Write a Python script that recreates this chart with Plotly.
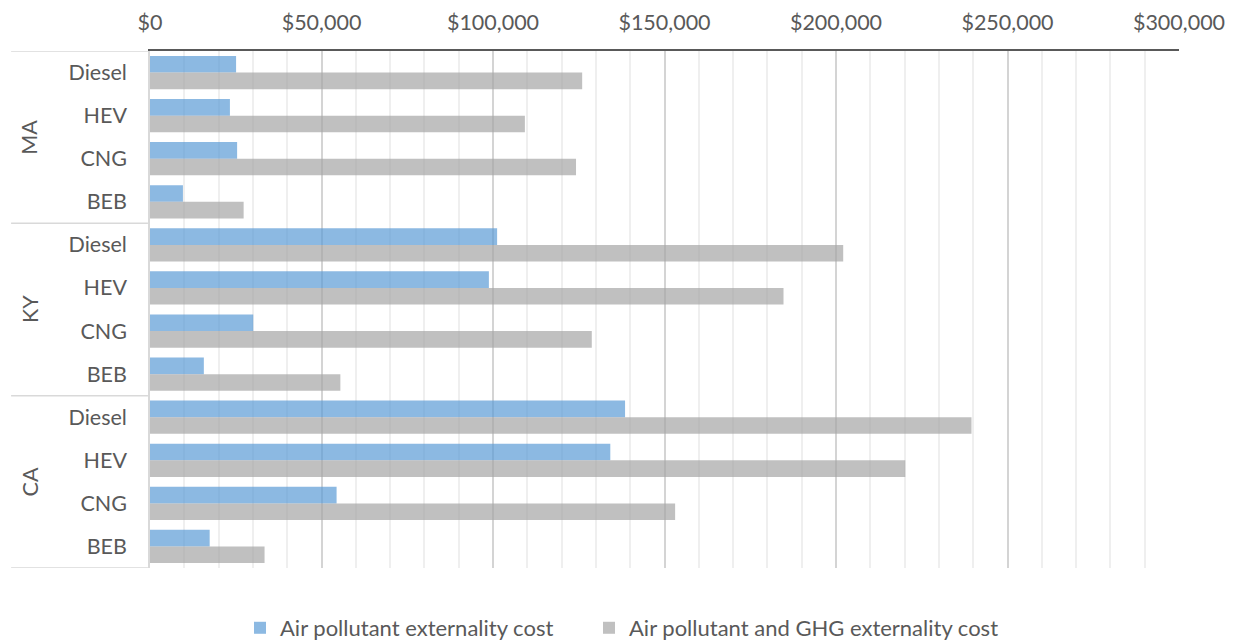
import plotly.graph_objects as go

# Externality cost per bus, by state and powertrain
states = ["MA", "KY", "CA"]
powertrains = ["Diesel", "HEV", "CNG", "BEB"]

air_pollutant = [25100, 23300, 25400, 9600,      # MA
                 101200, 98800, 30100, 15700,    # KY
                 138500, 134200, 54400, 17400]   # CA
air_pollutant_ghg = [126000, 109300, 124200, 27300,
                     202100, 184700, 128800, 55500,
                     239500, 220200, 153100, 33400]

x_ticks = [0, 50000, 100000, 150000, 200000, 250000, 300000]
x_tick_labels = ["$0", "$50,000", "$100,000", "$150,000", "$200,000", "$250,000", "$300,000"]

FONT = "Lato"
TXT = "#595959"
LINE = "#d9d9d9"
FS = 21.5

n_pt = len(powertrains)
rows = list(range(len(states) * n_pt))
row_labels = [pt for _ in states for pt in powertrains]

fig = go.Figure()
fig.add_trace(go.Bar(
    y=rows, x=air_pollutant, orientation="h",
    name="Air pollutant externality cost", legend="legend",
    marker=dict(color="rgba(91,155,213,0.7)", line=dict(width=0)),
))
fig.add_trace(go.Bar(
    y=rows, x=air_pollutant_ghg, orientation="h",
    name="Air pollutant and GHG externality cost", legend="legend2",
    marker=dict(color="rgba(165,165,165,0.7)", line=dict(width=0)),
))

# group dividers across the two-level category labels
shapes = []
for k in range(len(states) + 1):
    yb = k * n_pt - 0.5
    shapes.append(dict(type="line", xref="paper", yref="y",
                       x0=-0.135, x1=-0.002, y0=yb, y1=yb,
                       line=dict(color=LINE, width=1.5)))

annotations = []
for i, st in enumerate(states):
    annotations.append(dict(
        xref="paper", yref="y", x=-0.117, y=i * n_pt + (n_pt - 1) / 2,
        xanchor="center", yanchor="middle",
        text=st, textangle=-90, showarrow=False,
        font=dict(family=FONT, size=FS, color=TXT),
    ))

legend_common = dict(orientation="h", xref="container", yref="container",
                     xanchor="left", y=0.0203, yanchor="middle",
                     bgcolor="rgba(0,0,0,0)",
                     font=dict(family=FONT, size=22, color=TXT))

fig.update_layout(
    width=1235, height=641,
    margin=dict(l=150, r=56, t=51, b=73, autoexpand=False),
    paper_bgcolor="white", plot_bgcolor="white",
    barmode="group", bargap=0.23, bargroupgap=0,
    font=dict(family=FONT, size=FS, color=TXT),
    shapes=shapes, annotations=annotations,
    showlegend=True,
    legend=dict(x=240 / 1235, **legend_common),
    legend2=dict(x=589 / 1235, **legend_common),
    xaxis=dict(
        side="top", range=[0, 300000], tickvals=x_ticks, ticktext=x_tick_labels,
        showgrid=True, gridcolor="#d4d4d4", gridwidth=1.5,
        minor=dict(dtick=10000, showgrid=True, gridcolor="#efefef", gridwidth=1.5),
        showline=True, linecolor="#595959", linewidth=2,
        ticks="", ticklabelstandoff=10, zeroline=False, automargin=False,
        tickfont=dict(family=FONT, size=FS, color=TXT),
    ),
    yaxis=dict(
        range=[len(rows) - 0.5, -0.5], tickvals=rows, ticktext=row_labels,
        showgrid=False, zeroline=False, automargin=False,
        showline=True, linecolor=LINE, linewidth=1.5,
        ticks="", ticklabelstandoff=17,
        tickfont=dict(family=FONT, size=FS, color=TXT),
    ),
)

fig.write_html("out.html")
